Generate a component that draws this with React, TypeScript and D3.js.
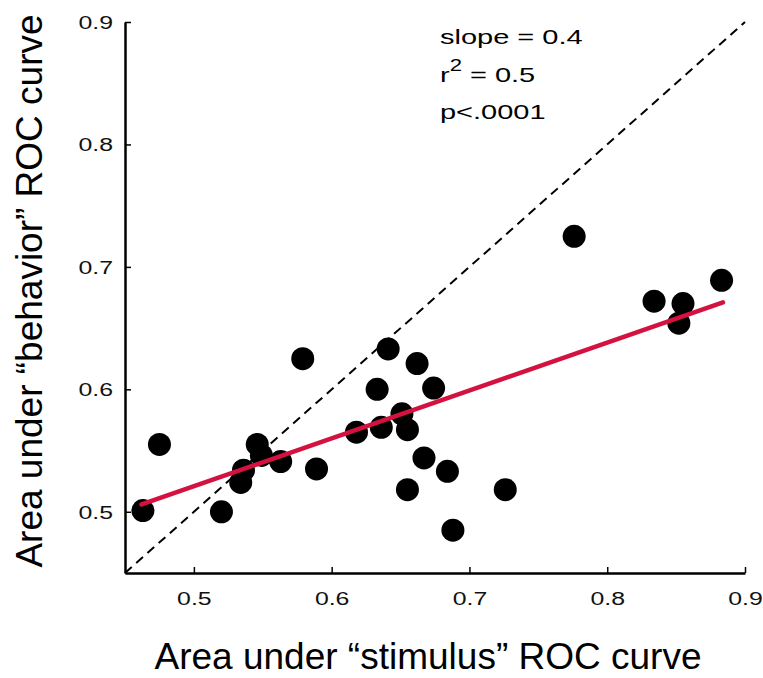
import React, { useEffect, useRef } from "react";
import * as d3 from "d3";

// area under ROC curve, one point per neuron
const aucStimulus = [
  0.463, 0.475, 0.520, 0.534, 0.536, 0.546, 0.549, 0.563, 0.589, 0.579,
  0.618, 0.633, 0.636, 0.641, 0.651, 0.655, 0.662, 0.655, 0.667, 0.674,
  0.684, 0.688, 0.726, 0.776, 0.834, 0.855, 0.852, 0.883,
];
const aucBehavior = [
  0.501, 0.555, 0.500, 0.524, 0.534, 0.555, 0.546, 0.541, 0.535, 0.625,
  0.565, 0.600, 0.569, 0.633, 0.580, 0.567, 0.621, 0.518, 0.544, 0.601,
  0.533, 0.485, 0.518, 0.725, 0.672, 0.670, 0.654, 0.689,
];

// regression line endpoints
const fitX = [0.462, 0.884];
const fitY = [0.506, 0.671];

const tickValues = [0.5, 0.6, 0.7, 0.8, 0.9];
const statsLines = ["slope = 0.4", "r2", "p<.0001"];

const App = () => {
  const svgRef = useRef<SVGSVGElement>(null);

  useEffect(() => {
    const width = 763;
    const height = 678;
    const left = 125, right = 745, top = 22, bottom = 573;

    const x = d3.scaleLinear().domain([0.45, 0.9]).range([left, right]);
    const y = d3.scaleLinear().domain([0.45, 0.9]).range([bottom, top]);

    const svg = d3.select(svgRef.current)
      .attr("width", width)
      .attr("height", height)
      .style("background", "#fff");
    svg.selectAll("*").remove();

    const font = "Arial, 'Liberation Sans', Helvetica, sans-serif";
    const stretch = 1.38;

    // unity line
    svg.append("line")
      .attr("x1", x(0.45)).attr("y1", y(0.45))
      .attr("x2", x(0.9)).attr("y2", y(0.9))
      .attr("stroke", "#000")
      .attr("stroke-width", 2)
      .attr("stroke-dasharray", "9,6");

    svg.selectAll(".dot")
      .data(aucStimulus)
      .join("circle")
      .attr("class", "dot")
      .attr("cx", (d) => x(d))
      .attr("cy", (d, i) => y(aucBehavior[i]))
      .attr("r", 11.5)
      .attr("fill", "#000");

    svg.append("line")
      .attr("x1", x(fitX[0])).attr("y1", y(fitY[0]))
      .attr("x2", x(fitX[1])).attr("y2", y(fitY[1]))
      .attr("stroke", "#d4123f")
      .attr("stroke-width", 4.5)
      .attr("stroke-linecap", "round");

    // axes, ticks pointing inward
    const xAxis = d3.axisBottom(x)
      .tickValues(tickValues)
      .tickSizeInner(-6)
      .tickSizeOuter(0)
      .tickFormat(d3.format(".1f"));
    const yAxis = d3.axisLeft(y)
      .tickValues(tickValues)
      .tickSizeInner(-6)
      .tickSizeOuter(0)
      .tickFormat(d3.format(".1f"));

    const gx = svg.append("g")
      .attr("transform", `translate(0,${bottom})`)
      .call(xAxis);
    const gy = svg.append("g")
      .attr("transform", `translate(${left},0)`)
      .call(yAxis);

    [gx, gy].forEach((g) => {
      g.select(".domain").attr("stroke-width", 2.5);
      g.selectAll(".tick line").attr("stroke-width", 1.5);
      g.selectAll(".tick text")
        .attr("font-family", font)
        .attr("font-size", 18)
        .attr("fill", "#111");
    });
    gx.selectAll(".tick text")
      .attr("y", 0)
      .attr("dy", 0)
      .attr("transform", `translate(0,32) scale(${stretch},1)`);
    gy.selectAll(".tick text")
      .attr("x", 0)
      .attr("dy", "0.36em")
      .attr("transform", `translate(-12,0) scale(${stretch},1)`);

    // stats
    const stats = svg.append("g")
      .attr("font-family", font)
      .attr("font-size", 21)
      .attr("fill", "#000");
    const baselines = [44, 82, 119];
    statsLines.forEach((s, i) => {
      const t = stats.append("text")
        .attr("transform", `translate(440,${baselines[i]}) scale(${stretch},1)`);
      if (s === "r2") {
        t.append("tspan").text("r");
        t.append("tspan").attr("font-size", 16).attr("dy", -11).text("2");
        t.append("tspan").attr("dy", 11).text(" = 0.5");
      } else {
        t.text(s);
      }
    });

    // axis titles
    svg.append("text")
      .attr("x", 428)
      .attr("y", 669)
      .attr("text-anchor", "middle")
      .attr("font-family", font)
      .attr("font-size", 37)
      .attr("fill", "#000")
      .text("Area under \u201cstimulus\u201d ROC curve");

    svg.append("text")
      .attr("transform", `translate(42,291) rotate(-90)`)
      .attr("text-anchor", "middle")
      .attr("font-family", font)
      .attr("font-size", 37)
      .attr("fill", "#000")
      .text("Area under \u201cbehavior\u201d ROC curve");
  }, []);

  return (
    <div>
      <svg ref={svgRef} style={{ position: "absolute", left: 0, top: 0 }} />
    </div>
  );
};

export default App;
